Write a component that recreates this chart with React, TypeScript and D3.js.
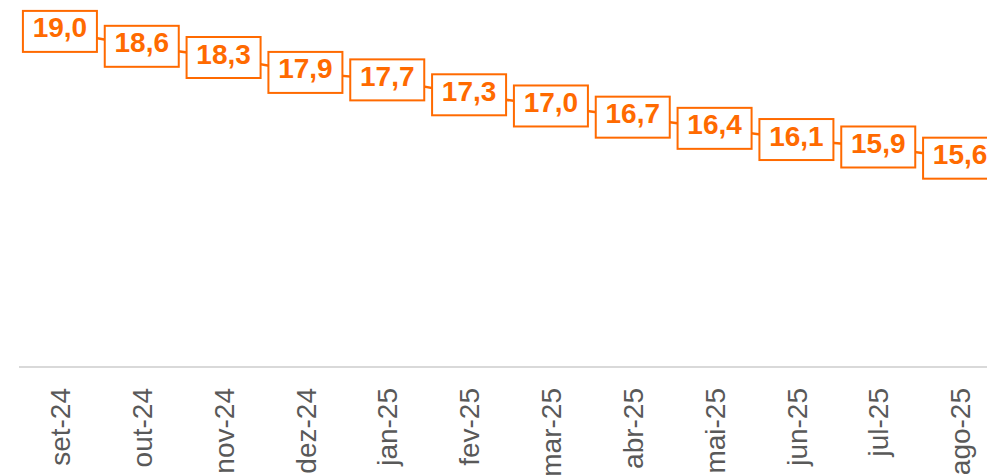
import React from 'react';
import * as d3 from 'd3';

const months = ['set-24', 'out-24', 'nov-24', 'dez-24', 'jan-25', 'fev-25', 'mar-25', 'abr-25', 'mai-25', 'jun-25', 'jul-25', 'ago-25'];
const values = [19.0, 18.6, 18.3, 17.9, 17.7, 17.3, 17.0, 16.7, 16.4, 16.1, 15.9, 15.6];

const W = 987;
const H = 475;
const orange = '#ff6a00';

const App: React.FC = () => {
  const x = d3.scaleBand<string>().domain(months).range([19, 1001]);
  const y = d3.scaleLinear().domain([10, 19]).range([367, 31.4]);
  const cx = (m: string) => (x(m) as number) + x.bandwidth() / 2;

  const line = d3.line<number>()
    .x((_, i) => cx(months[i]))
    .y(d => y(d));

  const fmt = (v: number) => v.toFixed(1).replace('.', ',');
  const boxW = 74;
  const boxH = 41;

  return (
    <div style={{ position: 'fixed', left: 0, top: 0, width: W, height: H, background: '#fff' }}>
      <svg width={W} height={H} style={{ display: 'block', overflow: 'hidden' }}>
        <line x1={19} x2={W} y1={367} y2={367} stroke="#d9d9d9" strokeWidth={2} />
        <path d={line(values) || ''} fill="none" stroke={orange} strokeWidth={2.5} />
        {values.map((v, i) => {
          const px = cx(months[i]);
          const py = y(v);
          return (
            <g key={months[i]}>
              <rect x={px - boxW / 2} y={py - boxH / 2} width={boxW} height={boxH}
                fill="#fff" stroke={orange} strokeWidth={2} />
              <text x={px} y={py + 6} textAnchor="middle"
                fontFamily="'Liberation Sans', Arial, sans-serif" fontWeight="bold"
                fontSize={28} fill={orange}>{fmt(v)}</text>
            </g>
          );
        })}
        {months.map(m => (
          <text key={m} transform={`translate(${cx(m)},388) rotate(-90)`}
            textAnchor="end" dy="0.36em"
            fontFamily="'Liberation Sans', Arial, sans-serif" fontSize={28} fill="#595959">{m}</text>
        ))}
      </svg>
    </div>
  );
};

export default App;
